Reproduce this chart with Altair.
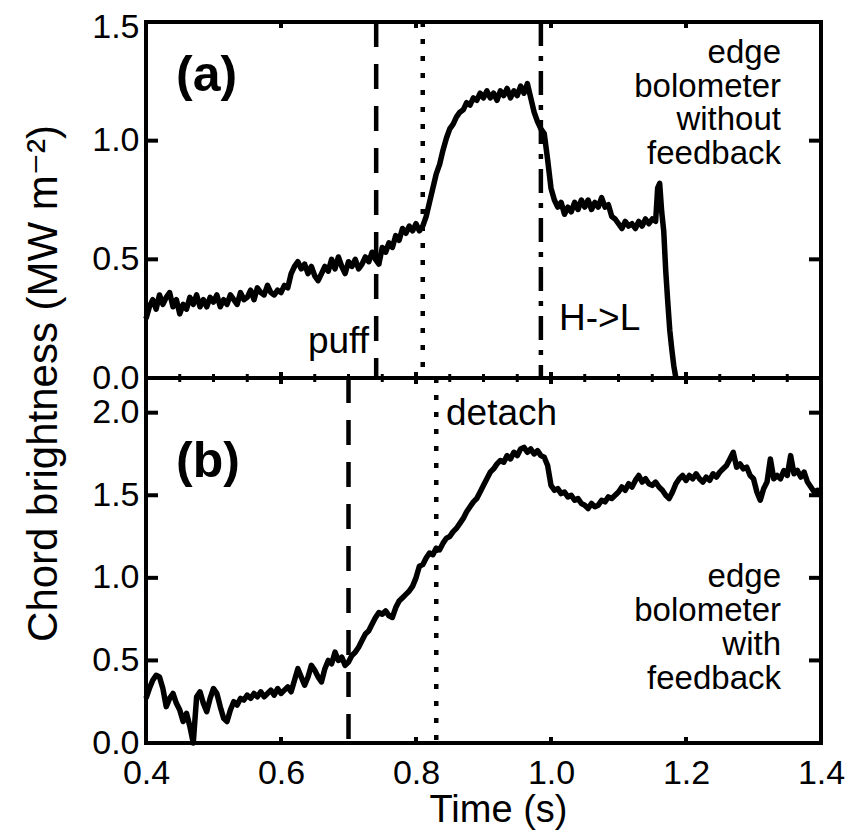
import altair as alt
import pandas as pd

# ---------------- data ----------------
time_a = [
    0.400, 0.405, 0.410, 0.415, 0.420, 0.425, 0.430, 0.435, 0.440, 0.445,
    0.450, 0.455, 0.460, 0.465, 0.470, 0.475, 0.480, 0.485, 0.490, 0.495,
    0.500, 0.505, 0.510, 0.515, 0.520, 0.525, 0.530, 0.535, 0.540, 0.545,
    0.550, 0.555, 0.560, 0.565, 0.570, 0.575, 0.580, 0.585, 0.590, 0.595,
    0.600, 0.605, 0.610, 0.615, 0.620, 0.625, 0.630, 0.635, 0.640, 0.645,
    0.650, 0.655, 0.660, 0.665, 0.670, 0.675, 0.680, 0.685, 0.690, 0.695,
    0.700, 0.705, 0.710, 0.715, 0.720, 0.725, 0.730, 0.735, 0.740, 0.745,
    0.750, 0.755, 0.760, 0.765, 0.770, 0.775, 0.780, 0.785, 0.790, 0.795,
    0.800, 0.805, 0.810, 0.815, 0.820, 0.825, 0.830, 0.835, 0.840, 0.845,
    0.850, 0.855, 0.860, 0.865, 0.870, 0.875, 0.880, 0.885, 0.890, 0.895,
    0.900, 0.905, 0.910, 0.915, 0.920, 0.925, 0.930, 0.935, 0.940, 0.945,
    0.950, 0.955, 0.960, 0.965, 0.970, 0.975, 0.980, 0.985, 0.990, 0.995,
    1.000, 1.005, 1.010, 1.015, 1.020, 1.025, 1.030, 1.035, 1.040, 1.045,
    1.050, 1.055, 1.060, 1.065, 1.070, 1.075, 1.080, 1.085, 1.090, 1.095,
    1.100, 1.105, 1.110, 1.115, 1.120, 1.125, 1.130, 1.135, 1.140, 1.145,
    1.150, 1.155,
    1.158, 1.161, 1.164, 1.167, 1.170, 1.173, 1.176, 1.179, 1.182, 1.185,
]
bright_a = [
    0.25, 0.30, 0.33, 0.29, 0.35, 0.31, 0.34, 0.36, 0.30, 0.33,
    0.27, 0.31, 0.29, 0.34, 0.31, 0.35, 0.30, 0.33, 0.30, 0.34,
    0.32, 0.35, 0.30, 0.33, 0.31, 0.35, 0.33, 0.31, 0.36, 0.33,
    0.34, 0.37, 0.33, 0.38, 0.36, 0.35, 0.39, 0.36, 0.35, 0.37,
    0.36, 0.39, 0.38, 0.44, 0.47, 0.49, 0.46, 0.48, 0.44, 0.47,
    0.43, 0.41, 0.44, 0.47, 0.45, 0.50, 0.46, 0.51, 0.47, 0.44,
    0.49, 0.47, 0.50, 0.46, 0.48, 0.51, 0.49, 0.53, 0.50, 0.48,
    0.55, 0.53, 0.57, 0.55, 0.60, 0.58, 0.63, 0.61, 0.64, 0.62,
    0.65, 0.62, 0.64, 0.68, 0.74, 0.80, 0.86, 0.90, 0.96, 1.01,
    1.05, 1.07, 1.10, 1.12, 1.13, 1.16, 1.15, 1.18, 1.17, 1.20,
    1.18, 1.21, 1.18, 1.20, 1.17, 1.21, 1.19, 1.22, 1.18, 1.21,
    1.19, 1.23, 1.20, 1.24, 1.18, 1.12, 1.08, 1.05, 1.03, 0.92,
    0.80, 0.75, 0.72, 0.74, 0.69, 0.72, 0.70, 0.74, 0.71, 0.75,
    0.72, 0.75, 0.71, 0.74, 0.72, 0.76, 0.72, 0.73, 0.68, 0.67,
    0.65, 0.63, 0.66, 0.64, 0.65, 0.63, 0.66, 0.64, 0.67, 0.65,
    0.67, 0.66,
    0.80, 0.82, 0.70, 0.62, 0.45, 0.32, 0.20, 0.12, 0.05, 0.00,
]

time_b = [
    0.400, 0.405, 0.410, 0.415, 0.420, 0.425, 0.430, 0.435, 0.440, 0.445,
    0.450, 0.455, 0.460, 0.465, 0.470, 0.475, 0.480, 0.485, 0.490, 0.495,
    0.500, 0.505, 0.510, 0.515, 0.520, 0.525, 0.530, 0.535, 0.540, 0.545,
    0.550, 0.555, 0.560, 0.565, 0.570, 0.575, 0.580, 0.585, 0.590, 0.595,
    0.600, 0.605, 0.610, 0.615, 0.620, 0.625, 0.630, 0.635, 0.640, 0.645,
    0.650, 0.655, 0.660, 0.665, 0.670, 0.675, 0.680, 0.685, 0.690, 0.695,
    0.700, 0.705, 0.710, 0.715, 0.720, 0.725, 0.730, 0.735, 0.740, 0.745,
    0.750, 0.755, 0.760, 0.765, 0.770, 0.775, 0.780, 0.785, 0.790, 0.795,
    0.800, 0.805, 0.810, 0.815, 0.820, 0.825, 0.830, 0.835, 0.840, 0.845,
    0.850, 0.855, 0.860, 0.865, 0.870, 0.875, 0.880, 0.885, 0.890, 0.895,
    0.900, 0.905, 0.910, 0.915, 0.920, 0.925, 0.930, 0.935, 0.940, 0.945,
    0.950, 0.955, 0.960, 0.965, 0.970, 0.975, 0.980, 0.985, 0.990, 0.995,
    1.000, 1.005, 1.010, 1.015, 1.020, 1.025, 1.030, 1.035, 1.040, 1.045,
    1.050, 1.055, 1.060, 1.065, 1.070, 1.075, 1.080, 1.085, 1.090, 1.095,
    1.100, 1.105, 1.110, 1.115, 1.120, 1.125, 1.130, 1.135, 1.140, 1.145,
    1.150, 1.155, 1.160, 1.165, 1.170, 1.175, 1.180, 1.185, 1.190, 1.195,
    1.200, 1.205, 1.210, 1.215, 1.220, 1.225, 1.230, 1.235, 1.240, 1.245,
    1.250, 1.255, 1.260, 1.265, 1.270, 1.275, 1.280, 1.285, 1.290, 1.295,
    1.300, 1.305, 1.310, 1.315, 1.320, 1.325, 1.330, 1.335, 1.340, 1.345,
    1.350, 1.355, 1.360, 1.365, 1.370, 1.375, 1.380, 1.385, 1.390, 1.395,
    1.400,
]
bright_b = [
    0.27, 0.33, 0.38, 0.41, 0.40, 0.33, 0.22, 0.27, 0.30, 0.24,
    0.20, 0.13, 0.18, 0.10, 0.00, 0.28, 0.31, 0.24, 0.19, 0.27,
    0.33, 0.30, 0.22, 0.15, 0.13, 0.20, 0.25, 0.23, 0.27, 0.26,
    0.29, 0.27, 0.30, 0.28, 0.31, 0.28, 0.30, 0.32, 0.29, 0.33,
    0.30, 0.32, 0.34, 0.31, 0.38, 0.45, 0.40, 0.35, 0.40, 0.47,
    0.44, 0.40, 0.37, 0.45, 0.50, 0.48, 0.55, 0.50, 0.52, 0.47,
    0.49, 0.53, 0.55, 0.58, 0.62, 0.66, 0.68, 0.72, 0.76, 0.79,
    0.78, 0.80, 0.77, 0.76, 0.82, 0.86, 0.88, 0.90, 0.92, 0.95,
    1.00, 1.07, 1.08, 1.12, 1.15, 1.14, 1.18, 1.17, 1.21, 1.24,
    1.25, 1.28, 1.30, 1.33, 1.36, 1.40, 1.43, 1.46, 1.48, 1.52,
    1.56, 1.60, 1.64, 1.66, 1.69, 1.71, 1.70, 1.74, 1.72, 1.76,
    1.74, 1.78, 1.79, 1.76, 1.78, 1.75, 1.77, 1.74, 1.73, 1.68,
    1.56, 1.53, 1.54, 1.51, 1.52, 1.49, 1.50, 1.47, 1.48, 1.45,
    1.44, 1.42, 1.45, 1.43, 1.44, 1.47, 1.46, 1.49, 1.48, 1.50,
    1.52, 1.55, 1.53, 1.57, 1.55, 1.59, 1.62, 1.58, 1.60, 1.57,
    1.56, 1.58, 1.55, 1.53, 1.50, 1.48, 1.52, 1.57, 1.60, 1.62,
    1.59, 1.62, 1.60, 1.63, 1.60, 1.58, 1.61, 1.59, 1.63, 1.61,
    1.64, 1.66, 1.68, 1.72, 1.76, 1.67, 1.69, 1.66, 1.67, 1.62,
    1.60, 1.52, 1.47, 1.54, 1.58, 1.72, 1.60, 1.62, 1.60, 1.65,
    1.62, 1.74, 1.63, 1.65, 1.61, 1.64, 1.58, 1.55, 1.52, 1.53,
    1.50,
]

x_major = [0.4, 0.6, 0.8, 1.0, 1.2, 1.4]
x_minor = [0.45, 0.50, 0.55, 0.65, 0.70, 0.75, 0.85, 0.90, 0.95,
           1.05, 1.10, 1.15, 1.25, 1.30, 1.35]
y_ticks_a = [0.0, 0.5, 1.0, 1.5]
y_ticks_b = [0.0, 0.5, 1.0, 1.5, 2.0]

puff_a, detach_a, hl_a = 0.741, 0.810, 0.985
puff_b, detach_b = 0.700, 0.830

# ---------------- chart ----------------
FONT = "Liberation Sans, Arial, Helvetica, DejaVu Sans, sans-serif"
W, HA, HB = 675, 356, 365

df_a = pd.DataFrame({"t": time_a, "v": bright_a})
df_b = pd.DataFrame({"t": time_b, "v": bright_b})
one = pd.DataFrame({"k": [0]})

xs = alt.Scale(domain=[0.4, 1.4], nice=False, zero=False)
ya = alt.Scale(domain=[0, 1.5], nice=False)
yb = alt.Scale(domain=[0, 2.21], nice=False)


def yaxis(vals, top_val, title=None):
    kw = dict(
        values=vals, format=".1f", ticks=False, domain=False, grid=False,
        labelFont=FONT, labelFontSize=34, labelColor="black", labelPadding=7,
        labelFlush=False, labelBaseline="middle",
        labelOffset={"condition": {"test": f"datum.value == {top_val}", "value": 5},
                     "value": 0},
    )
    if title:
        kw.update(title=title, titleFont=FONT, titleFontSize=42, titleFontWeight="normal",
                  titleColor="black", titleAngle=270, titleX=-90, titleY=361,
                  titleAlign="center", titleBaseline="alphabetic")
    else:
        kw.update(title=None)
    return alt.Axis(**kw)


AX_YA = yaxis(y_ticks_a, 1.5, "Chord brightness (MW m\u207b\u00b2)")
AX_YB = yaxis(y_ticks_b, 99)
AX_XB = alt.Axis(
    values=x_major, format=".1f", ticks=False, domain=False, grid=False,
    labelFont=FONT, labelFontSize=34, labelColor="black", labelPadding=13,
    labelFlush=False, labelAngle=0,
    title="Time (s)", titleFont=FONT, titleFontSize=38, titleFontWeight="normal",
    titleColor="black", titleX=352, titleY=78, titleAlign="center",
    titleBaseline="alphabetic")


def tick_layers(yscale, yax, xax, yvals, h, minor_bottom):
    dfy = pd.DataFrame({"v": yvals})
    dfx = pd.DataFrame({"t": x_major})
    dfm = pd.DataFrame({"t": x_minor})
    L = []
    for x0, x1 in [(0, 12), (W - 12, W)]:
        L.append(alt.Chart(dfy).mark_rule(color="black", strokeWidth=4).encode(
            y=alt.Y("v:Q", scale=yscale, axis=yax), x=alt.value(x0), x2=alt.value(x1)))
    L.append(alt.Chart(dfx).mark_rule(color="black", strokeWidth=4).encode(
        x=alt.X("t:Q", scale=xs, axis=xax), y=alt.value(0), y2=alt.value(6)))
    if minor_bottom:
        L.append(alt.Chart(dfx).mark_rule(color="black", strokeWidth=4).encode(
            x=alt.X("t:Q", scale=xs, axis=xax), y=alt.value(h - 6), y2=alt.value(h + 6)))
        L.append(alt.Chart(dfm).mark_rule(color="black", strokeWidth=3).encode(
            x=alt.X("t:Q", scale=xs, axis=xax), y=alt.value(h - 4), y2=alt.value(h + 4)))
    else:
        L.append(alt.Chart(dfx).mark_rule(color="black", strokeWidth=4).encode(
            x=alt.X("t:Q", scale=xs, axis=xax), y=alt.value(h - 6), y2=alt.value(h)))
    return L


def vline(t, dash, xax):
    return alt.Chart(pd.DataFrame({"t": [t]})).mark_rule(
        color="black", strokeWidth=4.5, strokeDash=dash).encode(
        x=alt.X("t:Q", scale=xs, axis=xax))


def label(txt, x, y, size, align="left", weight="normal", lh=None):
    kw = dict(text=txt, font=FONT, fontSize=size, fontWeight=weight, align=align,
              baseline="alphabetic", color="black")
    if lh:
        kw["lineHeight"] = lh
    return alt.Chart(one).mark_text(**kw).encode(x=alt.value(x), y=alt.value(y))


DASH = [25, 17]
DOT = [5, 12]
DASHDOT = [24, 10, 5, 10]

line_a = alt.Chart(df_a).mark_line(color="black", strokeWidth=5.5, strokeJoin="round").encode(
    x=alt.X("t:Q", scale=xs, axis=None),
    y=alt.Y("v:Q", scale=ya, axis=AX_YA),
)
top = alt.layer(
    line_a,
    vline(puff_a, DASH, None), vline(detach_a, DOT, None), vline(hl_a, DASHDOT, None),
    *tick_layers(ya, AX_YA, None, y_ticks_a, HA, True),
    label("(a)", 30, 69, 50, weight="bold"),
    label(["edge\u00a0", "bolometer", "without", "feedback"], 635, 41, 33, align="right", lh=33.5),
    label("puff", 223, 331, 37, align="right"),
    label("H->L", 413, 308, 37),
).properties(width=W, height=HA)

line_b = alt.Chart(df_b).mark_line(color="black", strokeWidth=5.5, strokeJoin="round").encode(
    x=alt.X("t:Q", scale=xs, axis=AX_XB),
    y=alt.Y("v:Q", scale=yb, axis=AX_YB),
)
bottom = alt.layer(
    line_b,
    vline(puff_b, DASH, AX_XB), vline(detach_b, DOT, AX_XB),
    *tick_layers(yb, AX_YB, AX_XB, y_ticks_b, HB, False),
    label("(b)", 30, 99, 50, weight="bold"),
    label("detach", 300, 47, 37),
    label(["edge\u00a0", "bolometer", "with", "feedback"], 635, 209, 33, align="right", lh=34),
).properties(width=W, height=HB)

chart = alt.vconcat(top, bottom, spacing=0, bounds="flush").properties(
    padding={"left": 11, "top": 0, "right": 5, "bottom": 0},
    background="white",
).configure_view(stroke="black", strokeWidth=4)

chart.save("out.html", embed_options={"renderer": "svg", "actions": False})
